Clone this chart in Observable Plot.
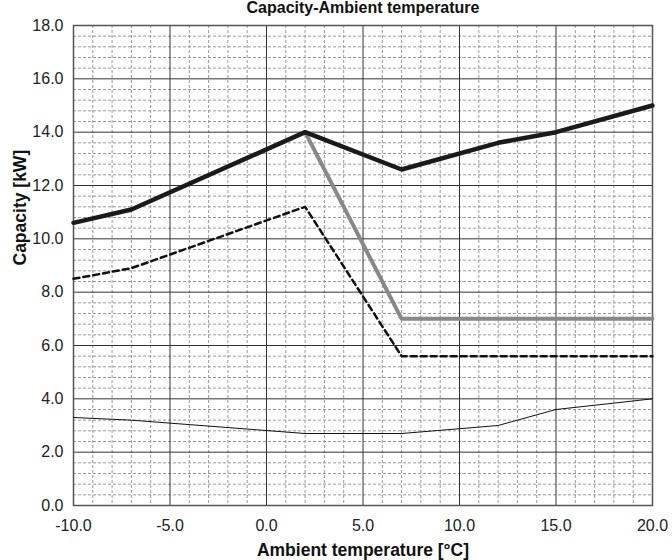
<!DOCTYPE html>
<html>
<head>
<meta charset="utf-8">
<script src="https://cdn.jsdelivr.net/npm/d3@7"></script>
<script src="https://cdn.jsdelivr.net/npm/@observablehq/plot@0.6"></script>
<style>
  html, body { margin: 0; padding: 0; background: #fff; }
  #chart { width: 672px; height: 560px; }
  svg { font-family: "Liberation Sans", Arial, sans-serif; }
</style>
</head>
<body>
<div id="chart"></div>
<script>
const title = "Capacity-Ambient temperature";
const xLabel = "Ambient temperature [°C]";
const yLabel = "Capacity [kW]";

const xTicks = [-10, -5, 0, 5, 10, 15, 20];
const yTicks = [0, 2, 4, 6, 8, 10, 12, 14, 16, 18];

// Thick black line
const maxX = [-10, -7, 2, 7, 12, 15, 20];
const maxY = [10.6, 11.1, 14.0, 12.6, 13.6, 14.0, 15.0];
// Thick gray line
const grayX = [2, 7, 20];
const grayY = [14.0, 7.0, 7.0];
// Dashed black line
const dashX = [-10, -7, 2, 7, 20];
const dashY = [8.5, 8.9, 11.2, 5.6, 5.6];
// Thin black line
const minX = [-10, -7, 2, 7, 12, 15, 20];
const minY = [3.3, 3.2, 2.7, 2.7, 3.0, 3.6, 4.0];

const toPts = (xs, ys) => xs.map((x, i) => ({x, y: ys[i]}));

const xMinor = d3.range(-10, 20.001, 1).filter(v => !xTicks.includes(v));
const yMinor = d3.range(0, 18.001, 0.4).map(v => +v.toFixed(1)).filter(v => !yTicks.includes(v));

const plot = Plot.plot({
  width: 672,
  height: 560,
  marginLeft: 73,
  marginRight: 20,
  marginTop: 25,
  marginBottom: 55,
  style: {fontFamily: '"Liberation Sans", Arial, sans-serif', fontSize: "16px", color: "#222", background: "#fff", overflow: "visible"},
  x: {domain: [-10, 20], axis: null},
  y: {domain: [0, 18], axis: null},
  marks: [
    Plot.ruleX(xMinor, {stroke: "#999", strokeWidth: 1, strokeDasharray: "3,2"}),
    Plot.ruleY(yMinor, {stroke: "#999", strokeWidth: 1, strokeDasharray: "3,2"}),
    Plot.ruleX(xTicks, {stroke: "#333", strokeWidth: 1}),
    Plot.ruleY(yTicks, {stroke: "#333", strokeWidth: 1}),
    Plot.frame({stroke: "#555", strokeWidth: 1.5}),
    Plot.text(xTicks, {x: d => d, frameAnchor: "bottom", dy: 25, lineAnchor: "bottom", text: d => d.toFixed(1), fontSize: 16, fill: "#222"}),
    Plot.text(yTicks, {y: d => d, frameAnchor: "left", dx: -10, textAnchor: "end", lineAnchor: "middle", text: d => d.toFixed(1), fontSize: 16, fill: "#222"}),
    Plot.line(toPts(minX, minY), {x: "x", y: "y", stroke: "#111", strokeWidth: 1}),
    Plot.line(toPts(dashX, dashY), {x: "x", y: "y", stroke: "#111", strokeWidth: 2.5, strokeDasharray: "6,4", strokeLinejoin: "miter"}),
    Plot.line(toPts(grayX, grayY), {x: "x", y: "y", stroke: "#888", strokeWidth: 4, strokeLinejoin: "miter"}),
    Plot.line(toPts(maxX, maxY), {x: "x", y: "y", stroke: "#1a1a1a", strokeWidth: 4.5, strokeLinejoin: "miter"}),
    Plot.text([title], {text: d => d, frameAnchor: "top", dy: -12.5, lineAnchor: "bottom", fontWeight: "bold", fontSize: 16, fill: "#111"}),
    Plot.text([xLabel], {text: d => d, frameAnchor: "bottom", dy: 50, lineAnchor: "bottom", fontWeight: "bold", fontSize: 17.5, fill: "#111"}),
    Plot.text([yLabel], {text: d => d, frameAnchor: "left", dx: -53, rotate: -90, lineAnchor: "middle", fontWeight: "bold", fontSize: 17.5, fill: "#111"})
  ]
});
document.getElementById("chart").appendChild(plot);
</script>
</body>
</html>
